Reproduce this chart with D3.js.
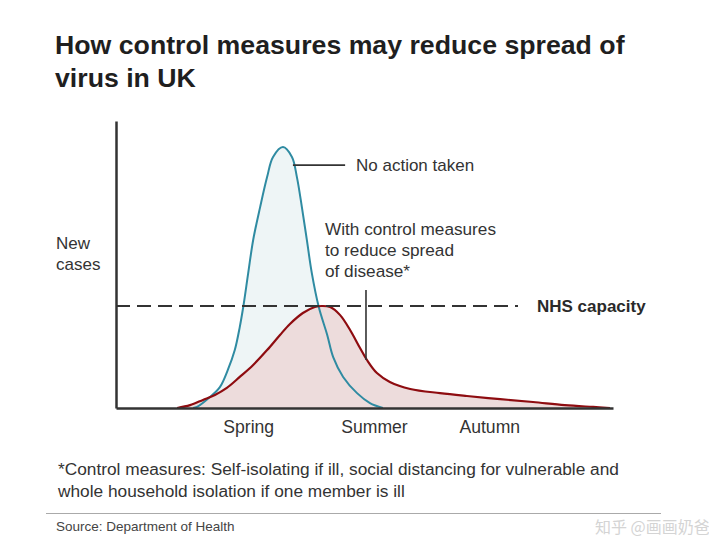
<!DOCTYPE html>
<html>
<head>
<meta charset="utf-8">
<script src="https://cdn.jsdelivr.net/npm/d3@7"></script>
<style>
  html, body { margin: 0; padding: 0; background: #fff; }
  svg { display: block; font-family: "Liberation Sans", Arial, Helvetica, sans-serif; }
</style>
</head>
<body>
<svg id="chart" width="709" height="556"></svg>
<script>
// ---- data (x: time index 0..100, y: relative new cases 0..110) ----
const noActionX = [15.5, 16.3, 18.9, 20.9, 22.5, 23.9, 24.9, 25.6, 26.6, 27.6, 29.0, 30.4, 31.6, 33.6, 35.4, 36.4, 37.4, 38.4, 39.4, 40.8, 42.5, 43.7, 45.7, 48.5, 51.1, 53.7];
const noActionY = [0, 0.4, 4.2, 8.0, 14.6, 22.2, 31.0, 38.7, 51.7, 64.4, 77.0, 88.5, 96.2, 100, 96.2, 88.5, 77.0, 64.4, 51.7, 38.7, 28.0, 19.5, 11.9, 5.7, 1.9, 0];
const controlX = [12.3, 14.9, 17.5, 19.9, 22.3, 24.9, 27.6, 30.4, 33.0, 35.0, 37.6, 40.0, 41.4, 43.1, 45.1, 47.1, 49.1, 50.5, 52.5, 55.1, 59.2, 65.2, 70.6, 77.3, 83.9, 90.3, 96.0, 99.4];
const controlY = [0, 1.1, 3.1, 5.0, 7.7, 11.9, 16.5, 22.2, 28.0, 32.2, 36.4, 38.7, 39.1, 38.7, 35.6, 29.9, 23.0, 18.4, 13.4, 10.0, 7.3, 5.7, 4.6, 3.4, 2.3, 1.1, 0.4, 0];
const nhsCapacity = 39.1;
const seasonLabels = ["Spring", "Summer", "Autumn"];
const seasonTicks = [26.6, 51.9, 75.1];
const titleLines = ["How control measures may reduce spread of", "virus in UK"];
const yLabelLines = ["New", "cases"];
const controlLabelLines = ["With control measures", "to reduce spread", "of disease*"];
const noActionLabel = "No action taken";
const nhsLabel = "NHS capacity";
const footnoteLines = ["*Control measures: Self-isolating if ill, social distancing for vulnerable and", "whole household isolation if one member is ill"];
const sourceText = "Source: Department of Health";
const watermarkText = "知乎 @画画奶爸";
// annotation anchors in data units
const noActionLeader = {x0: 35.6, x1: 46.1, y: 93.1};
const controlMarker = {x: 50.3, y0: 45.2, y1: 18.4};

// ---- layout ----
const svg = d3.select("#chart");
const x = d3.scaleLinear().domain([0, 100]).range([116, 613]);
const y = d3.scaleLinear().domain([0, 110]).range([408, 121]);

const blueLine = "#2f8ba2", blueFill = "#eef5f6";
const redLine = "#8e0c10", redFill = "#ecdada";
const ink = "#333";
const bodySize = 17.2;

// title
svg.append("g").selectAll("text").data(titleLines).join("text")
  .attr("x", 55).attr("y", (d, i) => 54 + i * 33)
  .attr("font-size", 26.7).attr("font-weight", "bold").attr("fill", "#1f1f1f")
  .text(d => d);

const noAction = noActionX.map((v, i) => [v, noActionY[i]]);
const control = controlX.map((v, i) => [v, controlY[i]]);

const curve = d3.curveCatmullRom.alpha(0.5);
const area = d3.area().x(d => x(d[0])).y0(y(0)).y1(d => Math.min(y(0), y(d[1]))).curve(curve);
const line = d3.line().x(d => x(d[0])).y(d => y(d[1])).curve(curve);

svg.append("path").datum(noAction).attr("d", area).attr("fill", blueFill);
svg.append("path").datum(control).attr("d", area).attr("fill", redFill).attr("fill-opacity", 0.95);
svg.append("path").datum(noAction).attr("d", line).attr("fill", "none").attr("stroke", blueLine).attr("stroke-width", 2);
svg.append("path").datum(control).attr("d", line).attr("fill", "none").attr("stroke", redLine).attr("stroke-width", 2.2);

// NHS capacity dashed line
svg.append("line")
  .attr("x1", x(0)).attr("x2", 518).attr("y1", y(nhsCapacity)).attr("y2", y(nhsCapacity))
  .attr("stroke", ink).attr("stroke-width", 2).attr("stroke-dasharray", "14,7");
svg.append("text").attr("x", 537).attr("y", y(nhsCapacity) + 6)
  .attr("font-size", 17).attr("font-weight", "bold").attr("fill", "#2a2a2a").text(nhsLabel);

// control marker
svg.append("line")
  .attr("x1", x(controlMarker.x)).attr("x2", x(controlMarker.x))
  .attr("y1", y(controlMarker.y0)).attr("y2", y(controlMarker.y1))
  .attr("stroke", ink).attr("stroke-width", 1.6);
svg.append("g").selectAll("text").data(controlLabelLines).join("text")
  .attr("x", 325).attr("y", (d, i) => 235 + i * 21)
  .attr("font-size", bodySize).attr("fill", ink).text(d => d);

// no action leader
svg.append("line")
  .attr("x1", x(noActionLeader.x0)).attr("x2", x(noActionLeader.x1))
  .attr("y1", y(noActionLeader.y)).attr("y2", y(noActionLeader.y))
  .attr("stroke", ink).attr("stroke-width", 1.6);
svg.append("text").attr("x", 356).attr("y", y(noActionLeader.y) + 6)
  .attr("font-size", 17).attr("fill", ink).text(noActionLabel);

// axes
const xAxis = d3.axisBottom(x).tickValues(seasonTicks).tickFormat((d, i) => seasonLabels[i])
  .tickSize(0).tickSizeOuter(0).tickPadding(13);
const gx = svg.append("g").attr("transform", `translate(0,${y(0)})`).call(xAxis);
gx.select(".domain").attr("stroke", ink).attr("stroke-width", 2.5);
gx.selectAll("text").attr("font-size", 17.6).attr("fill", ink).attr("font-family", "Liberation Sans, Arial, sans-serif");

const yAxis = d3.axisLeft(y).tickValues([]).tickSizeOuter(0);
const gy = svg.append("g").attr("transform", `translate(${x(0)},0)`).call(yAxis);
gy.select(".domain").attr("stroke", ink).attr("stroke-width", 2.5);

svg.append("g").selectAll("text").data(yLabelLines).join("text")
  .attr("x", 56).attr("y", (d, i) => 249 + i * 21)
  .attr("font-size", 17).attr("fill", ink).text(d => d);

// footnote
svg.append("g").selectAll("text").data(footnoteLines).join("text")
  .attr("x", 58).attr("y", (d, i) => 475 + i * 22)
  .attr("font-size", 17.3).attr("fill", ink).text(d => d);

svg.append("line").attr("x1", 46).attr("x2", 661).attr("y1", 513.5).attr("y2", 513.5)
  .attr("stroke", "#aaa").attr("stroke-width", 1);

svg.append("text").attr("x", 56).attr("y", 531)
  .attr("font-size", 13.5).attr("fill", "#444").text(sourceText);

svg.append("text").attr("x", 595).attr("y", 533)
  .attr("font-size", 16).attr("fill", "#d4d4d4")
  .attr("font-family", "Noto Sans CJK SC, sans-serif").text(watermarkText);
</script>
</body>
</html>
